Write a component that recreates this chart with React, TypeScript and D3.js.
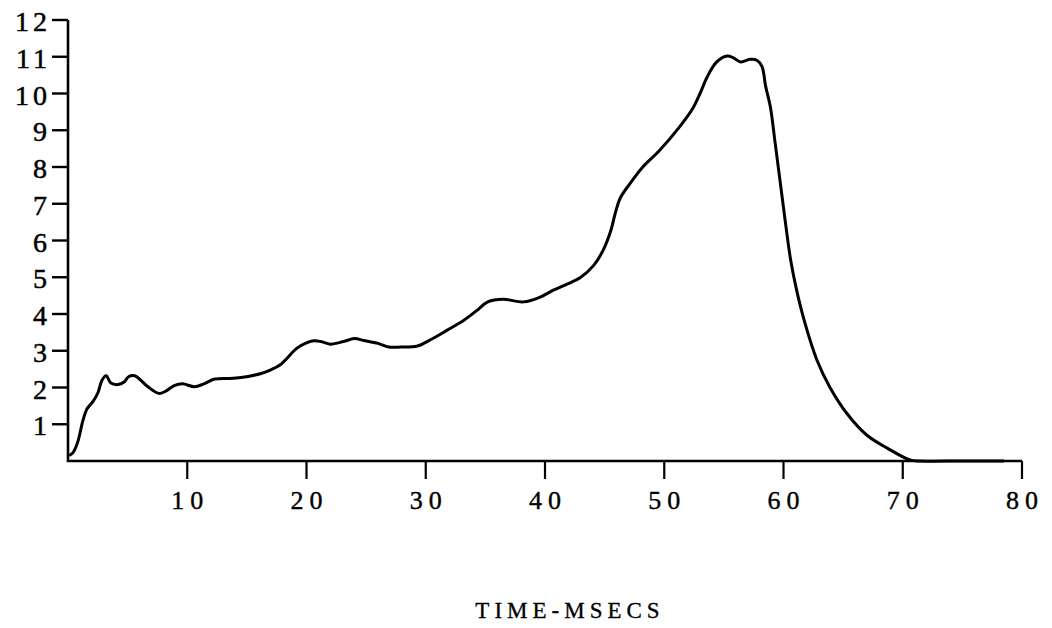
import React from "react";
import * as d3 from "d3";

// Pressure trace sampled along the time axis (ms)
const timeMs = [
  0.1, 0.4, 0.8, 1.25, 1.6, 2.1, 2.5, 2.85, 3.2, 3.6, 4.2, 4.7, 5.1, 5.6, 6.7, 7.6, 8.2, 8.9, 9.6,
  10.6, 11.4, 12.3, 13.9, 15.1, 16.2, 17.0, 17.8, 19.2, 19.9, 20.6, 21.2, 22.0, 23.1, 24.0, 24.8,
  26.0, 26.9, 27.9, 29.3, 30.4, 31.8, 33.2, 34.3, 35.2, 36.5, 38.2, 39.6, 40.7, 41.9, 43.0, 44.1,
  44.9, 45.5, 45.9, 46.3, 47.2, 48.2, 49.6, 51.3, 52.4, 53.0, 53.6, 54.4, 55.3, 55.8, 56.4, 57.2,
  57.8, 58.2, 58.5, 58.9, 59.3, 59.7, 60.1, 60.6, 61.1, 61.8, 62.8, 63.9, 65.3, 67.0, 68.7, 70.6,
  71.5, 75.0, 78.5,
];
const amplitude = [
  0.15, 0.22, 0.5, 1.1, 1.42, 1.62, 1.85, 2.2, 2.32, 2.12, 2.08, 2.15, 2.3, 2.32, 2.02, 1.84, 1.9,
  2.05, 2.1, 2.02, 2.1, 2.23, 2.25, 2.3, 2.38, 2.48, 2.62, 3.07, 3.2, 3.27, 3.25, 3.18, 3.25, 3.33,
  3.28, 3.2, 3.1, 3.1, 3.13, 3.3, 3.56, 3.83, 4.1, 4.33, 4.4, 4.33, 4.46, 4.65, 4.82, 5.0, 5.33,
  5.75, 6.25, 6.75, 7.15, 7.58, 8.0, 8.45, 9.1, 9.6, 10.0, 10.45, 10.86, 11.02, 10.97, 10.86,
  10.93, 10.9, 10.73, 10.2, 9.63, 8.65, 7.65, 6.64, 5.47, 4.65, 3.75, 2.75, 2.0, 1.3, 0.7, 0.35,
  0.03, 0, 0, 0,
];

const xTicks = [10, 20, 30, 40, 50, 60, 70, 80];
const yTicks = [1, 2, 3, 4, 5, 6, 7, 8, 9, 10, 11, 12];
const xTitle = "TIME-MSECS";

const W = 1052;
const H = 628;

export default function App() {
  const x = d3.scaleLinear().domain([0, 80]).range([68, 1022]);
  const y = d3.scaleLinear().domain([0, 12]).range([461, 20]);

  const pts: [number, number][] = timeMs.map((t, i) => [t, amplitude[i]]);
  const line = d3
    .line<[number, number]>()
    .x((d) => x(d[0]))
    .y((d) => y(d[1]))
    .curve(d3.curveCatmullRom.alpha(0.5));

  const font = "'Liberation Serif', 'DejaVu Serif', serif";

  return (
    <svg
      width={W}
      height={H}
      viewBox={`0 0 ${W} ${H}`}
      style={{ position: "absolute", left: 0, top: 0, background: "#fff" }}
    >
      {/* axes frame: left spine and bottom spine */}
      <path
        d={`M${x(0)},${y(12)} L${x(0)},${y(0)} L${x(80)},${y(0)}`}
        fill="none"
        stroke="#000"
        strokeWidth={2.6}
      />

      {/* y ticks and labels */}
      {yTicks.map((v) => (
        <g key={`y${v}`}>
          <line x1={x(0) - 16} x2={x(0)} y1={y(v)} y2={y(v)} stroke="#000" strokeWidth={2.4} />
          <text
            x={47 + 4}
            y={y(v) + 11}
            textAnchor="end"
            fontFamily={font}
            fontSize={28}
            letterSpacing={4}
            fill="#000"
            stroke="#000"
            strokeWidth={0.5}
          >
            {v}
          </text>
        </g>
      ))}

      {/* x ticks and labels */}
      {xTicks.map((v) => (
        <g key={`x${v}`}>
          <line x1={x(v)} x2={x(v)} y1={y(0)} y2={y(0) + 18} stroke="#000" strokeWidth={2.2} />
          <text
            x={x(v) + 3}
            y={509}
            textAnchor="middle"
            fontFamily={font}
            fontSize={26}
            letterSpacing={6}
            fill="#000"
            stroke="#000"
            strokeWidth={0.4}
          >
            {v}
          </text>
        </g>
      ))}

      {/* trace */}
      <path d={line(pts) ?? ""} fill="none" stroke="#000" strokeWidth={3} strokeLinejoin="round" />

      {/* axis title */}
      <text
        x={570}
        y={618}
        textAnchor="middle"
        fontFamily={font}
        fontSize={23}
        letterSpacing={5}
        fill="#000"
        stroke="#000"
        strokeWidth={0.3}
      >
        {xTitle}
      </text>
    </svg>
  );
}
